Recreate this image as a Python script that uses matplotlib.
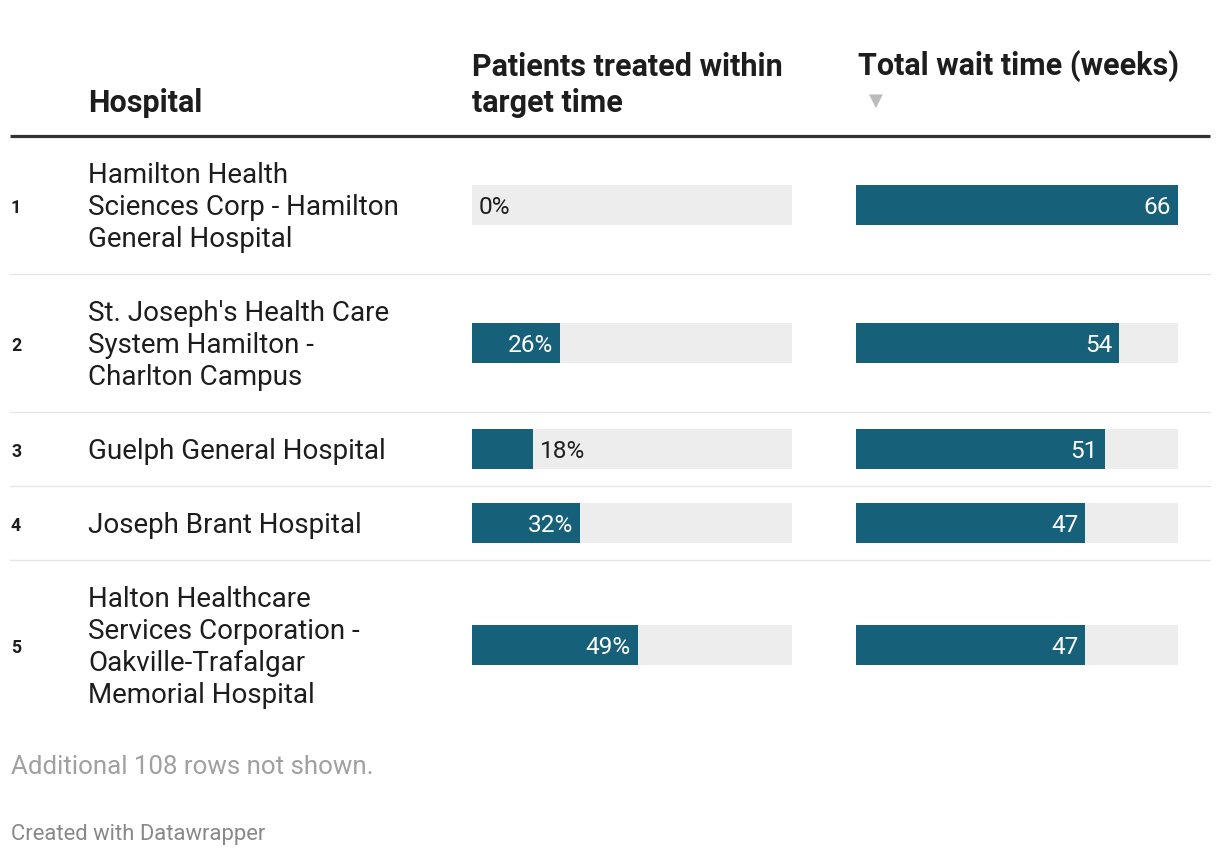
import matplotlib.pyplot as plt

# table data
ranks = [1, 2, 3, 4, 5]
hospitals = [
    ["Hamilton Health", "Sciences Corp - Hamilton", "General Hospital"],
    ["St. Joseph's Health Care", "System Hamilton -", "Charlton Campus"],
    ["Guelph General Hospital"],
    ["Joseph Brant Hospital"],
    ["Halton Healthcare", "Services Corporation -", "Oakville-Trafalgar", "Memorial Hospital"],
]
pct_treated = [0, 26, 18, 32, 49]
wait_weeks = [66, 54, 51, 47, 47]
pct_max = 94.5   # column max over all 113 rows (not shown)
wait_max = 66

headers = ["Hospital", "Patients treated within\ntarget time", "Total wait time (weeks)"]
note = "Additional 108 rows not shown."
credit = "Created with Datawrapper"

BAR = "#17607a"
BG = "#ededed"
DARK = "#1d1d1d"
FONT = "Roboto"
DY = 2.5  # matplotlib centres on the box incl. descent, nudge down

W, H = 1220, 856
fig = plt.figure(figsize=(W / 100, H / 100), dpi=100)
ax = fig.add_axes([0, 0, 1, 1])
ax.set_xlim(0, W)
ax.set_ylim(H, 0)
ax.axis("off")

# bar columns get their own axes so the values go through a real scale
def col_axes(x0, width, vmax):
    a = fig.add_axes([x0 / W, 0, width / W, 1])
    a.set_xlim(0, vmax)
    a.set_ylim(H, 0)
    a.axis("off")
    a.patch.set_alpha(0)
    return a

axp = col_axes(472, 320, pct_max)
axw = col_axes(856, 322, wait_max)

# header
HFS = 22
ax.text(88, 100 + DY, headers[0], fontsize=HFS, fontweight="bold", family=FONT,
        color=DARK, va="center")
for i, line in enumerate(headers[1].split("\n")):
    ax.text(472, 64 + DY + 36 * i, line, fontsize=HFS, fontweight="bold",
            family=FONT, color=DARK, va="center")
ax.text(858, 64 + DY, headers[2], fontsize=HFS, fontweight="bold", family=FONT,
        color=DARK, va="center")
ax.text(876, 101, "\u25bc", fontsize=13, color="#bbbbbb", ha="center",
        va="center", family="DejaVu Sans")
ax.plot([10, 1210], [136, 136], color="#333333", lw=2.3, solid_capstyle="butt")

# rows
top = 136
line_h = 32
NFS = 20
LFS = 17.6
for k in range(len(ranks)):
    n = len(hospitals[k])
    row_h = line_h * n + 42
    yc = top + row_h / 2

    ax.text(11, yc + 3, str(ranks[k]), fontsize=12.8, fontweight="bold",
            family=FONT, color=DARK, va="center")
    for i, line in enumerate(hospitals[k]):
        ax.text(88, yc + DY + (i - (n - 1) / 2) * line_h, line, fontsize=NFS,
                family=FONT, color=DARK, va="center")

    # percent column
    axp.barh(yc, pct_max, height=40, color=BG)
    axp.barh(yc, pct_treated[k], height=40, color=BAR)
    lab = f"{pct_treated[k]}%"
    if pct_treated[k] >= 20:
        axp.annotate(lab, (pct_treated[k], yc + DY), xytext=(-5, 0),
                     textcoords="offset points", ha="right", va="center",
                     fontsize=LFS, family=FONT, color="white")
    else:
        axp.annotate(lab, (pct_treated[k], yc + DY), xytext=(5, 0),
                     textcoords="offset points", ha="left", va="center",
                     fontsize=LFS, family=FONT, color=DARK)

    # wait time column
    axw.barh(yc, wait_max, height=40, color=BG)
    axw.barh(yc, wait_weeks[k], height=40, color=BAR)
    axw.annotate(str(wait_weeks[k]), (wait_weeks[k], yc + DY), xytext=(-5, 0),
                 textcoords="offset points", ha="right", va="center",
                 fontsize=LFS, family=FONT, color="white")

    top += row_h
    if k < len(ranks) - 1:
        ax.plot([10, 1210], [top, top], color="#e6e6e6", lw=1)

# footer
ax.text(11, 765 + DY, note, fontsize=18.6, family=FONT, color="#a0a0a0", va="center")
ax.text(11, 832 + DY, credit, fontsize=15.8, family=FONT, color="#888888", va="center")

fig.savefig("out.png", dpi=100)
